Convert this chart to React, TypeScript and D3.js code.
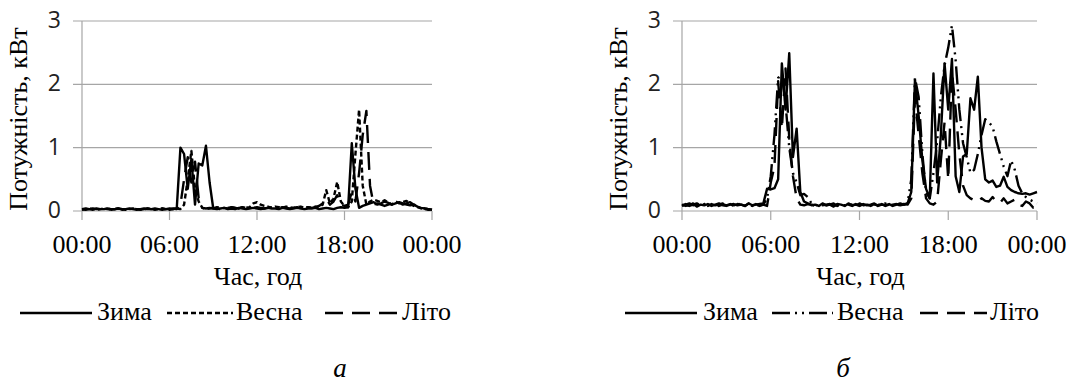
import React from 'react';
import * as d3 from 'd3';

// ---------- data ----------
const TICK_HOURS = [0, 6, 12, 18, 24];
const TICK_LABELS = ['00:00', '06:00', '12:00', '18:00', '00:00'];
const Y_TICKS = [0, 1, 2, 3];
const SERIES_NAMES = ['Зима', 'Весна', 'Літо'];
const Y_TITLE = 'Потужність, кВт';
const X_TITLE = 'Час, год';
const CAPTIONS = ['а', 'б'];

// 15-minute samples, 00:00 .. 24:00 (97 values)
const winterA = [
  0.03,0.04,0.03,0.02,0.04,0.03,0.03,0.04,0.02,0.03,0.04,0.03,0.03,0.04,0.03,0.02,0.03,0.04,0.03,0.03,0.04,0.03,0.02,0.03,0.04,0.03,
  0.05,1.0,0.9,0.35,0.82,0.1,0.75,0.72,1.03,0.45,0.04,
  0.03,0.04,0.05,0.03,0.04,0.03, 0.05,0.04,0.03,0.04,0.05,0.04, 0.03,0.04,0.05,0.04,0.04,0.03,
  0.05,0.04,0.03,0.04,0.05,0.04, 0.03,0.04,0.04,0.05,0.03,0.04, 0.05,0.04,0.03,0.05,0.06,0.05,
  0.06,1.07,0.35,0.05,0.08,0.1,
  0.12,0.14,0.1,0.12,0.15,0.13, 0.1,0.12,0.14,0.12,0.1,0.09, 0.1,0.07,0.05,0.04,0.03,0.02,
];
const springA = [
  0.02,0.03,0.04,0.03,0.02,0.03,0.04, 0.03,0.02,0.03,0.04,0.03,0.02,0.03, 0.04,0.03,0.03,0.02,0.04,0.03,0.02, 0.03,0.04,0.03,0.02,0.03,0.04,0.03,
  0.1,0.5,0.95,0.35,0.15,0.05,
  0.03,0.04,0.05,0.04,0.03,0.05, 0.04,0.06,0.05,0.04,0.06,0.05,
  0.06,0.12,0.14,0.1,0.08,0.07,
  0.05,0.07,0.06,0.05,0.07,0.06,0.05, 0.06,0.07,0.05,0.06,0.05,0.07,0.06,
  0.1,0.33,0.12,0.2,0.46,0.15,0.08,0.06,0.15,0.9,1.6,0.4,0.1,
  0.15,0.18,0.16,0.14,0.17,0.13, 0.1,0.15,0.12,0.14,0.16,0.12, 0.08,0.06,0.04,0.03,0.02,0.02,
];
const summerA = [
  0.03,0.02,0.03,0.04,0.03,0.03,0.02,0.04,0.03, 0.03,0.04,0.02,0.03,0.03,0.04,0.03,0.02,0.03, 0.04,0.03,0.03,0.02,0.04,0.03,0.03,0.04,0.03,
  0.1,0.5,0.85,0.45,0.78,0.2,0.05,
  0.04,0.05,0.04,0.06,0.05,0.04,0.05,0.06, 0.05,0.04,0.06,0.05,0.04,0.05,0.06,0.05, 0.04,0.05,0.06,0.07,0.05,0.06,0.05,0.04, 0.05,0.06,0.05,0.04,0.06,0.05,0.06,
  0.08,0.12,0.2,0.1,0.15,0.25,0.1,0.08,0.1,0.3,0.15,0.6,1.2,1.58,0.4,0.1,
  0.12,0.1,0.08,0.1,0.12,0.09,0.13,0.1,0.12,0.14,0.1,0.08,0.06,0.04,0.03,0.02,
];

const winterB = [
  0.1,0.08,0.09,0.12,0.07,0.1,0.09,0.11,0.08,0.1,0.12, 0.09,0.08,0.1,0.11,0.09,0.1,0.08,0.12,0.09,0.1,0.11,
  0.12,0.35,0.34,0.36,0.5,2.33,1.6,2.49,0.85,1.3,0.3,0.15,0.12,
  0.09,0.1,0.08,0.12,0.09,0.1,0.07,0.11,0.1,0.08,0.12,0.09,0.1, 0.08,0.11,0.09,0.1,0.12,0.08,0.1,0.09,0.11,0.08,0.1,0.12,0.1,
  0.12,0.3,2.07,1.5,0.8,0.35, 0.2,2.17,0.45,1.2,2.33,1.6, 2.4,0.55,0.3,0.86,0.9,1.78,
  1.6,2.12,1.0,0.5,0.45,0.48, 0.38,0.4,0.54,0.38,0.33,0.3, 0.28,0.27,0.28,0.26,0.28,0.3,
];
const springB = [
  0.08,0.1,0.12,0.09,0.1,0.08,0.11,0.1,0.09,0.12,0.08, 0.1,0.09,0.11,0.08,0.1,0.12,0.09,0.1,0.08,0.11,0.09,
  0.1,0.2,0.55,1.2,2.1,2.15,1.7,1.0,0.6,0.45,0.25,0.27,0.22,0.12,
  0.1,0.08,0.11,0.09,0.1,0.12,0.08,0.1,0.09,0.11,0.1,0.08,0.12, 0.09,0.1,0.08,0.11,0.1,0.09,0.12,0.08,0.1,0.11,0.09,0.1,
  0.12,0.5,2.1,1.8,0.9,0.3, 0.2,0.6,1.1,1.8,2.3,2.58, 2.93,2.38,1.6,1.07,0.85,0.6,
  0.65,0.9,1.2,1.45,1.4,1.33, 1.1,0.9,0.7,0.55,0.8,0.65, 0.4,0.28,0.22,0.18,0.15,0.12,
];
const summerB = [
  0.09,0.11,0.08,0.1,0.12,0.09,0.1,0.08,0.11,0.09,0.1, 0.12,0.08,0.1,0.09,0.11,0.1,0.08,0.12,0.09,0.1,0.08,
  0.1,0.08,0.45,0.7,2.05,1.3,2.25,1.15,0.55,0.2,0.1,
  0.09,0.11,0.1,0.08,0.12,0.09,0.1, 0.11,0.08,0.1,0.09,0.12,0.1,0.08, 0.11,0.09,0.1,0.08,0.12,0.1,0.09, 0.11,0.08,0.1,0.12,0.09,0.1,0.11,
  0.1,0.2,1.8,1.2,0.6,0.2, 0.12,0.1,0.15,0.8,1.4,0.5, 2.2,1.6,0.9,0.4,0.25,0.2,
  0.17,0.15,0.2,0.16,0.15,0.22, 0.15,0.13,0.2,0.12,0.15,0.18, 0.1,0.08,0.15,0.12,0.05,0.04,
];

// ---------- styles ----------
const SERIF = 'Liberation Serif';
const SANS = 'Open Sans';
const GRID = '#a6a6a6';

type Legend = { l0: number; l1: number; t: number; dash: string | null }[];

function Chart(props: {
  x0: number; x1: number;
  series: number[][];
  dashes: (string | null)[];
  legend: Legend;
  caption: string; captionX: number;
}) {
  const { x0, x1, series, dashes, legend, caption, captionX } = props;
  const yTop = 21, yBot = 211;
  const x = d3.scaleLinear().domain([0, 24]).range([x0, x1]);
  const y = d3.scaleLinear().domain([0, 3]).range([yBot, yTop]);
  const line = d3.line<number>().x((_, i) => x(i / 4)).y((v) => y(v));
  const order = [2, 1, 0];
  return (
    <g>
      {Y_TICKS.map((t) => (
        <line key={'g' + t} x1={x0 - 9} x2={x1} y1={y(t)} y2={y(t)} stroke={GRID} strokeWidth={1.2} />
      ))}
      <line x1={x0} x2={x0} y1={yTop} y2={yBot} stroke={GRID} strokeWidth={1.2} />
      {TICK_HOURS.map((h) => (
        <line key={'t' + h} x1={x(h)} x2={x(h)} y1={yBot} y2={yBot + 9} stroke={GRID} strokeWidth={1.2} />
      ))}
      {Y_TICKS.map((t) => (
        <text key={'yl' + t} x={x0 - 21} y={y(t) + 7} textAnchor="end" fontFamily={SANS} fontSize={23} fill="#222">
          {t}
        </text>
      ))}
      <text
        x={0}
        y={0}
        transform={`translate(${x0 - 55},${(yTop + yBot) / 2 + 3}) rotate(-90)`}
        textAnchor="middle"
        fontFamily={SERIF}
        fontSize={26}
        fill="#000"
      >
        {Y_TITLE}
      </text>
      {order.map((k) => (
        <path
          key={'s' + k}
          d={line(series[k]) || ''}
          fill="none"
          stroke="#000"
          strokeWidth={2.4}
          strokeLinejoin="round"
          strokeDasharray={dashes[k] || undefined}
        />
      ))}
      {TICK_LABELS.map((lab, i) => (
        <text key={'xl' + i} x={x(TICK_HOURS[i])} y={253} textAnchor="middle" fontFamily={SERIF} fontSize={26} fill="#000">
          {lab}
        </text>
      ))}
      <text x={x(12) + 1} y={285} textAnchor="middle" fontFamily={SERIF} fontSize={26} fill="#000">
        {X_TITLE}
      </text>
      {legend.map((it, k) => (
        <g key={'lg' + k}>
          <line x1={it.l0} x2={it.l1} y1={313} y2={313} stroke="#000" strokeWidth={2.4} strokeDasharray={it.dash || undefined} />
          <text x={it.t} y={320} fontFamily={SERIF} fontSize={26} fill="#000">
            {SERIES_NAMES[k]}
          </text>
        </g>
      ))}
      <text x={captionX} y={377} textAnchor="middle" fontFamily={SERIF} fontSize={27} fontStyle="italic" fill="#000">
        {caption}
      </text>
    </g>
  );
}

export default function App() {
  const dashA = [null, '5,3', '18,9'];
  const dashB = [null, '18,5,2,5,2,5', '18,9'];
  const legendA: Legend = [
    { l0: 20, l1: 92, t: 97, dash: null },
    { l0: 167, l1: 233, t: 236, dash: '5,3' },
    { l0: 325, l1: 397, t: 402, dash: '18,9' },
  ];
  const legendB: Legend = [
    { l0: 625, l1: 697, t: 703, dash: null },
    { l0: 772, l1: 833, t: 837, dash: '18,5,2,5,2,5' },
    { l0: 920, l1: 987, t: 990, dash: '18,9' },
  ];
  return (
    <div>
      <svg
        width={1070}
        height={383}
        style={{ position: 'absolute', left: 0, top: 0, background: '#fff', display: 'block' }}
      >
        <rect x={0} y={0} width={1070} height={383} fill="#fff" />
        <Chart x0={82} x1={432} series={[winterA, springA, summerA]} dashes={dashA} legend={legendA} caption={CAPTIONS[0]} captionX={340} />
        <Chart x0={682} x1={1037} series={[winterB, springB, summerB]} dashes={dashB} legend={legendB} caption={CAPTIONS[1]} captionX={843} />
      </svg>
    </div>
  );
}
